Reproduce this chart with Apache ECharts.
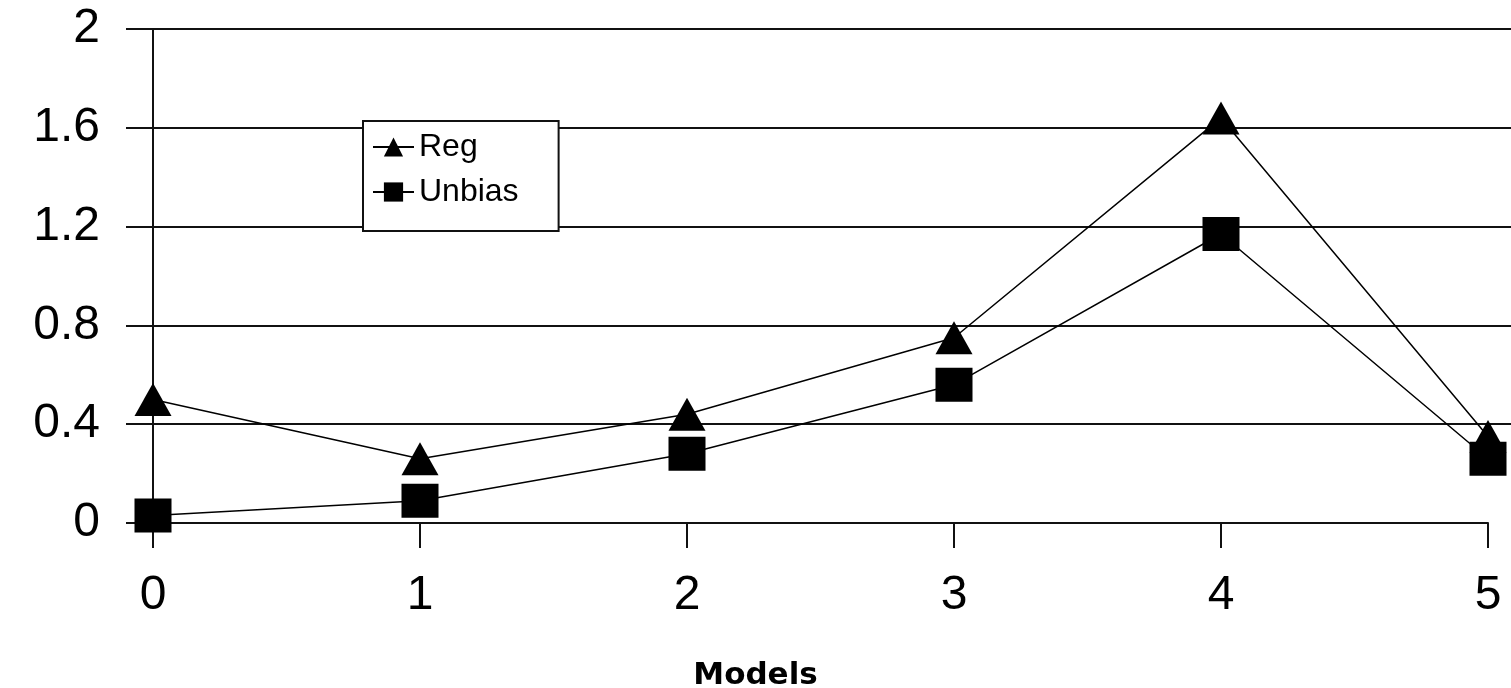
<!DOCTYPE html>
<html>
<head>
<meta charset="utf-8">
<script src="https://cdn.jsdelivr.net/npm/echarts@6/dist/echarts.min.js"></script>
<style>
html,body{margin:0;padding:0;background:#fff;overflow:hidden;}
#chart{width:1511px;height:688px;}
</style>
</head>
<body>
<div id="chart"></div>
<script>
const models = [0, 1, 2, 3, 4, 5];
const regValues = [0.50, 0.26, 0.44, 0.75, 1.64, 0.35];
const unbiasValues = [0.03, 0.09, 0.28, 0.56, 1.17, 0.26];
const yTicks = ['0', '0.4', '0.8', '1.2', '1.6', '2'];
const xTitle = 'Models';

const font = 'Liberation Sans, Arial, sans-serif';
const chart = echarts.init(document.getElementById('chart'), null, {renderer: 'canvas', width: 1511, height: 688});

const pairs = (vals) => models.map((m, i) => [m, vals[i]]);

chart.setOption({
  backgroundColor: '#fff',
  animation: false,
  title: {
    text: xTitle, left: 'center', top: 660, padding: 0,
    textStyle: {fontSize: 31, fontWeight: 'bold', fontFamily: 'DejaVu Sans, sans-serif', color: '#000'}
  },
  grid: [
    {left: 153, right: 23, top: 29, bottom: 165},
    {left: 153, right: 0, top: 29, bottom: 165}
  ],
  xAxis: [
    {
      gridIndex: 0, type: 'value', min: 0, max: 5, interval: 1,
      axisLine: {show: true, lineStyle: {color: '#111', width: 2}},
      axisTick: {show: true, length: 25, lineStyle: {color: '#111', width: 2}},
      axisLabel: {color: '#000', fontSize: 48, fontFamily: font, margin: 49},
      splitLine: {show: false}
    },
    {
      gridIndex: 1, type: 'value', min: 0, max: 5, show: false
    }
  ],
  yAxis: [
    {
      gridIndex: 0, type: 'value', min: 0, max: 2, interval: 0.4,
      axisLine: {show: true, lineStyle: {color: '#111', width: 2}},
      axisTick: {show: true, length: 27, lineStyle: {color: '#111', width: 2}},
      axisLabel: {color: '#000', fontSize: 48, fontFamily: font, margin: 53,
        formatter: (v) => yTicks[Math.round(v / 0.4)]},
      splitLine: {show: false}
    },
    {
      gridIndex: 1, type: 'value', min: 0, max: 2, interval: 0.4,
      axisLine: {show: false}, axisTick: {show: false}, axisLabel: {show: false},
      splitLine: {show: true, lineStyle: {color: ['rgba(0,0,0,0)', '#111', '#111', '#111', '#111', '#111'], width: 2}}
    }
  ],
  legend: {
    orient: 'vertical',
    left: 363, top: 121,
    backgroundColor: '#fff',
    borderColor: '#111', borderWidth: 2,
    padding: [10, 40, 23, 9],
    itemWidth: 41, itemHeight: 24, itemGap: 13,
    textStyle: {fontSize: 32, fontFamily: font, color: '#000'},
    data: ['Reg', 'Unbias']
  },
  series: [
    {
      name: 'Reg', type: 'line', xAxisIndex: 0, yAxisIndex: 0,
      data: pairs(regValues),
      symbol: 'triangle', symbolSize: [37, 33],
      lineStyle: {color: '#000', width: 1.5},
      itemStyle: {color: '#000', borderWidth: 0},
      z: 3
    },
    {
      name: 'Unbias', type: 'line', xAxisIndex: 0, yAxisIndex: 0,
      data: pairs(unbiasValues),
      symbol: 'rect', symbolSize: [37, 34],
      lineStyle: {color: '#000', width: 1.5},
      itemStyle: {color: '#000', borderWidth: 0},
      z: 4
    }
  ]
});
</script>
</body>
</html>
